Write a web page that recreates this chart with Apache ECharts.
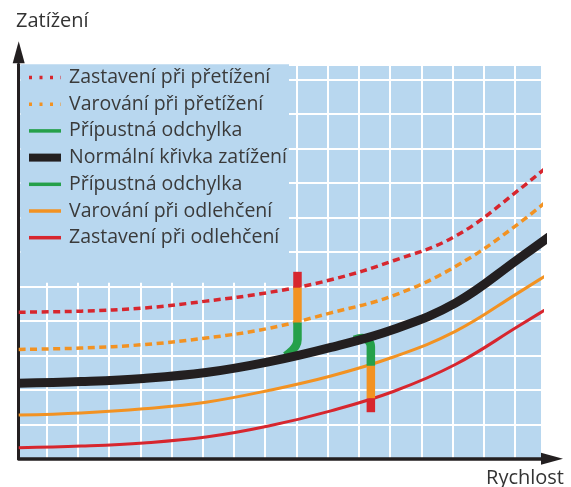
<!DOCTYPE html>
<html>
<head>
<meta charset="utf-8">
<script src="https://cdn.jsdelivr.net/npm/echarts@6/dist/echarts.min.js"></script>
<style>
html, body { margin: 0; padding: 0; background: #fff; }
#chart { width: 571px; height: 487px; }
</style>
</head>
<body>
<div id="chart"></div>
<script>
// x = rychlost (v dílcích mřížky), y = zatížení; poslední bod leží za okrajem a ořízne se
var speed = [0, 2, 4, 6, 8, 10, 12, 14, 16, 18];
var stopOverload = [4.25, 4.28, 4.37, 4.57, 4.82, 5.19, 5.74, 6.46, 7.78, 9.30];
var warnOverload = [3.17, 3.21, 3.31, 3.50, 3.78, 4.23, 4.73, 5.58, 6.81, 8.30];
var normalLoad = [2.19, 2.24, 2.33, 2.50, 2.81, 3.23, 3.75, 4.52, 5.79, 7.10];
var warnUnderload = [1.27, 1.33, 1.45, 1.64, 1.98, 2.40, 2.95, 3.70, 4.81, 5.95];
var stopUnderload = [0.32, 0.37, 0.46, 0.63, 0.95, 1.39, 1.95, 2.74, 3.84, 4.95];

// ukázkové body na křivce
var overSpeed = 8.93;
var overStop = [5.42, 4.96];
var overWarn = [4.96, 3.95];
var overTol = [[8.93, 3.95], [8.93, 3.45], [8.88, 3.28], [8.75, 3.13], [8.55, 2.98]];
var underSpeed = 11.28;
var underTol = [[11.28, 2.70], [11.28, 3.25], [11.2, 3.42], [11.0, 3.50], [10.75, 3.45]];
var underWarn = [2.70, 1.75];
var underStop = [1.75, 1.35];

var names = {
    stopOver: 'Zastavení při přetížení',
    warnOver: 'Varování při přetížení',
    tolOver: 'Přípustná odchylka ',
    normal: 'Normální křivka zatížení',
    tolUnder: 'Přípustná odchylka',
    warnUnder: 'Varování při odlehčení',
    stopUnder: 'Zastavení při odlehčení'
};

var RED = '#d7262e', ORANGE = '#f29222', GREEN = '#25a04a', BLACK = '#231f20';
var FONT = "'Open Sans', sans-serif";

function pairs(ys) {
    return speed.map(function (x, i) { return [x, ys[i]]; });
}
function bar(x, ys) {
    return ys.map(function (y) { return [x, y]; });
}
function line(name, data, color, width, type, smooth) {
    return {
        name: name,
        type: 'line',
        data: data,
        symbol: 'none',
        smooth: smooth,
        clip: true,
        silent: true,
        lineStyle: { color: color, width: width, type: type, cap: 'butt', join: 'round' },
        itemStyle: { color: color }
    };
}

var myChart = echarts.init(document.getElementById('chart'));
option = {
    animation: false,
    title: [
        { text: 'Zatížení', left: 16, top: 11, padding: 0,
          textStyle: { fontFamily: FONT, fontSize: 20, fontWeight: 'normal', color: '#333' } },
        { text: 'Rychlost', right: 7, top: 468, padding: 0,
          textStyle: { fontFamily: FONT, fontSize: 20, fontWeight: 'normal', color: '#333' } }
    ],
    legend: {
        orient: 'vertical',
        left: 25,
        top: 67.5,
        padding: 0,
        itemWidth: 32,
        itemHeight: 14,
        itemGap: 6.7,
        selectedMode: false,
        itemStyle: { opacity: 0 },
        textStyle: { fontFamily: FONT, fontSize: 19.5, color: '#3a3a3a', lineHeight: 20, padding: [0, 0, 0, 3] },
        formatter: function (n) { return n.trim(); },
        data: [
            { name: names.stopOver, lineStyle: { width: 3.5, type: [3, 7.5] } },
            { name: names.warnOver, lineStyle: { width: 3.5, type: [3, 7.5] } },
            { name: names.tolOver, lineStyle: { width: 3.5 } },
            { name: names.normal, lineStyle: { width: 8 } },
            { name: names.tolUnder, lineStyle: { width: 3.5 } },
            { name: names.warnUnder, lineStyle: { width: 3.5 } },
            { name: names.stopUnder, lineStyle: { width: 3.5 } }
        ]
    },
    grid: [
        { left: 18.7, top: 64.3, width: 522.3, height: 394.5, show: true,
          backgroundColor: '#b8d7ef', borderWidth: 0 },
        { left: 15.48, top: 64.3, width: 530.74, height: 394.5 }
    ],
    xAxis: [
        { type: 'value', gridIndex: 0, min: 0, max: 16.73,
          axisLine: { show: true, symbol: ['none', 'triangle'], symbolSize: [12, 22], symbolOffset: [0, 11],
                      lineStyle: { color: BLACK, width: 3.5 } },
          axisTick: { show: false }, axisLabel: { show: false }, splitLine: { show: false } },
        { type: 'value', gridIndex: 1, min: -1, max: 16, interval: 1,
          axisLine: { show: false }, axisTick: { show: false }, axisLabel: { show: false },
          splitLine: { show: true, lineStyle: { color: '#ffffff', width: 2 } } }
    ],
    yAxis: [
        { type: 'value', gridIndex: 0, min: 0, max: 11.435,
          axisLine: { show: true, symbol: ['none', 'triangle'], symbolSize: [12, 22], symbolOffset: [0, 12],
                      lineStyle: { color: BLACK, width: 3 } },
          axisTick: { show: false }, axisLabel: { show: false }, splitLine: { show: false } },
        { type: 'value', gridIndex: 1, min: 0, max: 11.435, interval: 1,
          axisLine: { show: false }, axisTick: { show: false }, axisLabel: { show: false },
          splitLine: { show: true, lineStyle: { color: '#ffffff', width: 2 } } }
    ],
    graphic: [
        { type: 'rect', z: 1, silent: true,
          shape: { x: 20.5, y: 64.3, width: 268.5, height: 218.5 },
          style: { fill: '#b8d7ef' } }
    ],
    series: [
        line(names.stopOver, pairs(stopOverload), RED, 3.5, [7, 4.5], 0.4),
        line(names.warnOver, pairs(warnOverload), ORANGE, 3.5, [7, 4.5], 0.4),
        line(names.warnUnder, pairs(warnUnderload), ORANGE, 3, 'solid', 0.4),
        line(names.stopUnder, pairs(stopUnderload), RED, 3, 'solid', 0.4),
        line('stop-over-bar', bar(overSpeed, overStop), RED, 8.5, 'solid', false),
        line('warn-over-bar', bar(overSpeed, overWarn), ORANGE, 8.5, 'solid', false),
        line(names.tolOver, overTol, GREEN, 8.5, 'solid', 0.4),
        line('warn-under-bar', bar(underSpeed, underWarn), ORANGE, 8.5, 'solid', false),
        line('stop-under-bar', bar(underSpeed, underStop), RED, 8.5, 'solid', false),
        line(names.tolUnder, underTol, GREEN, 8.5, 'solid', 0.4),
        line(names.normal, pairs(normalLoad), BLACK, 9, 'solid', 0.4)
    ]
};
myChart.setOption(option);
</script>
</body>
</html>
